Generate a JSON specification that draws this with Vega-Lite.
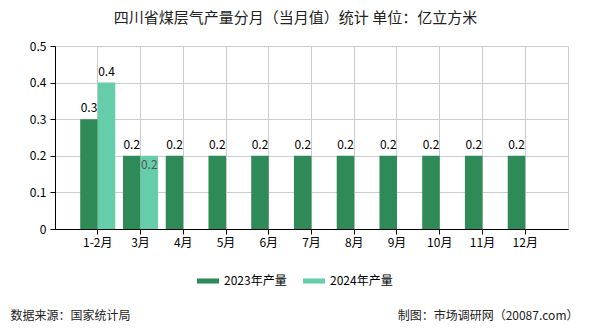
{
  "$schema": "https://vega.github.io/schema/vega-lite/v6.json",
  "width": 513,
  "height": 183,
  "autosize": {"type": "none"},
  "padding": {"left": 55, "top": 46, "right": 22, "bottom": 101},
  "background": "white",
  "config": {
    "font": "Noto Sans CJK SC",
    "view": {"stroke": "#cccccc"}
  },
  "title": {
    "text": "四川省煤层气产量分月（当月值）统计 单位：亿立方米",
    "anchor": "middle",
    "dx": -16,
    "offset": 14,
    "fontSize": 15,
    "fontWeight": "normal",
    "color": "#222222",
    "font": "Noto Sans CJK SC"
  },
  "data": {
    "values": [
      {"month": "1-2月", "series": "2023年产量", "value": 0.3},
      {"month": "3月", "series": "2023年产量", "value": 0.2},
      {"month": "4月", "series": "2023年产量", "value": 0.2},
      {"month": "5月", "series": "2023年产量", "value": 0.2},
      {"month": "6月", "series": "2023年产量", "value": 0.2},
      {"month": "7月", "series": "2023年产量", "value": 0.2},
      {"month": "8月", "series": "2023年产量", "value": 0.2},
      {"month": "9月", "series": "2023年产量", "value": 0.2},
      {"month": "10月", "series": "2023年产量", "value": 0.2},
      {"month": "11月", "series": "2023年产量", "value": 0.2},
      {"month": "12月", "series": "2023年产量", "value": 0.2},
      {"month": "1-2月", "series": "2024年产量", "value": 0.4},
      {"month": "3月", "series": "2024年产量", "value": 0.2}
    ]
  },
  "encoding": {
    "x": {
      "field": "month",
      "type": "nominal",
      "sort": ["1-2月", "3月", "4月", "5月", "6月", "7月", "8月", "9月", "10月", "11月", "12月"],
      "scale": {"paddingInner": 0.18, "paddingOuter": 0.59},
      "axis": {
        "labelAngle": 0,
        "grid": true,
        "gridColor": "#cccccc",
        "domainColor": "#000000",
        "tickColor": "#000000",
        "tickSize": 5,
        "labelColor": "#000000",
        "labelFontSize": 12,
        "labelPadding": 3,
        "title": "数据来源：国家统计局",
        "titleX": -45,
        "titleY": 86,
        "titleAlign": "left",
        "titleBaseline": "middle",
        "titleFontSize": 12,
        "titleFontWeight": "normal",
        "titleColor": "#222222"
      }
    },
    "xOffset": {"field": "series", "type": "nominal", "sort": ["2023年产量", "2024年产量"]},
    "y": {
      "field": "value",
      "type": "quantitative",
      "scale": {"domain": [0, 0.5]},
      "axis": {
        "values": [0, 0.1, 0.2, 0.3, 0.4, 0.5],
        "format": ".1~f",
        "grid": true,
        "gridColor": "#cccccc",
        "domainColor": "#000000",
        "tickColor": "#000000",
        "tickSize": 5,
        "labelColor": "#000000",
        "labelFontSize": 12,
        "labelPadding": 4,
        "title": "制图：市场调研网（20087.com）",
        "titleAngle": 0,
        "titleX": 523,
        "titleY": 269,
        "titleAlign": "right",
        "titleBaseline": "middle",
        "titleFontSize": 12,
        "titleFontWeight": "normal",
        "titleColor": "#222222"
      }
    }
  },
  "layer": [
    {
      "mark": {"type": "bar"},
      "encoding": {
        "color": {
          "field": "series",
          "type": "nominal",
          "scale": {"domain": ["2023年产量", "2024年产量"], "range": ["#2e8b57", "#66cdaa"]},
          "legend": {
            "title": null,
            "orient": "none",
            "direction": "horizontal",
            "legendX": 142,
            "legendY": 224,
            "symbolType": "M-1,-0.23H1V0.23H-1Z",
            "symbolSize": 484,
            "symbolStrokeWidth": 0,
            "labelFontSize": 12,
            "labelColor": "#000000",
            "labelOffset": 5,
            "columnPadding": 16
          }
        }
      }
    },
    {
      "transform": [{"filter": "!(datum.series === '2024年产量' && datum.month === '3月')"}],
      "mark": {"type": "text", "dy": -4, "baseline": "bottom", "fontSize": 12, "color": "#000000"},
      "encoding": {
        "text": {"field": "value", "type": "quantitative", "format": ".1f"}
      }
    },
    {
      "transform": [{"filter": "datum.series === '2024年产量' && datum.month === '3月'"}],
      "mark": {"type": "text", "dy": 9, "baseline": "middle", "fontSize": 12, "color": "#555555"},
      "encoding": {
        "text": {"field": "value", "type": "quantitative", "format": ".1f"}
      }
    }
  ]
}
